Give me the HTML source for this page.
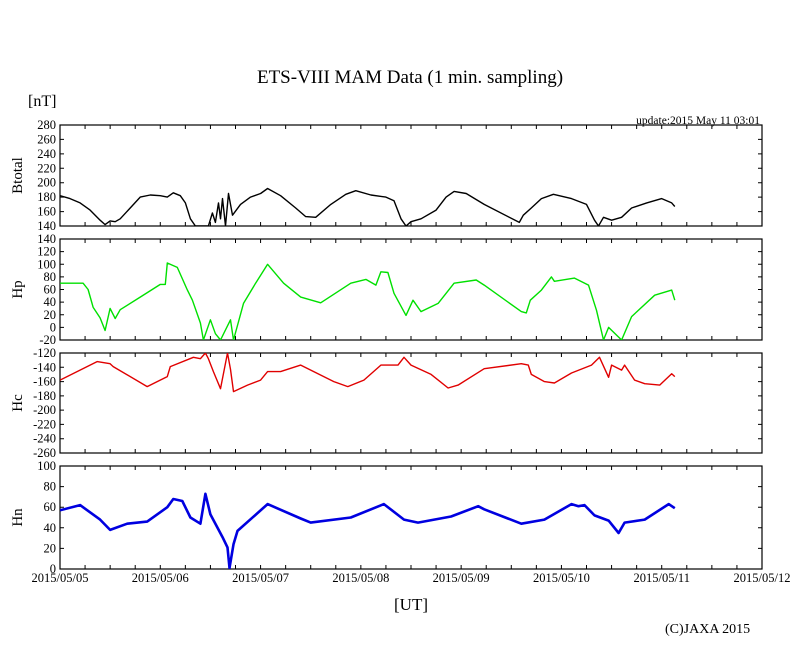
<!DOCTYPE html>
<html><head><meta charset="utf-8"><style>
body{margin:0;background:#fff;width:810px;height:655px;overflow:hidden}
text{font-family:"Liberation Serif",serif}
</style></head><body>
<svg id="chart" width="810" height="655" xmlns="http://www.w3.org/2000/svg">
<text x="410" y="83" font-size="19" text-anchor="middle">ETS-VIII MAM Data (1 min. sampling)</text>
<text x="28" y="106" font-size="16">[nT]</text>
<text x="760" y="124" font-size="11.5" text-anchor="end">update:2015 May 11 03:01</text>
<text x="411" y="610" font-size="17" text-anchor="middle">[UT]</text>
<text x="665" y="633" font-size="14">(C)JAXA 2015</text>
</svg>
<script>
const dayLabels=["2015/05/05","2015/05/06","2015/05/07","2015/05/08","2015/05/09","2015/05/10","2015/05/11","2015/05/12"];
const btotT=[0,0.1,0.2,0.3,0.4,0.45,0.5,0.55,0.6,0.7,0.8,0.9,1.0,1.07,1.13,1.2,1.25,1.3,1.35,1.48,1.52,1.55,1.58,1.6,1.62,1.65,1.68,1.72,1.8,1.9,2.0,2.07,2.2,2.35,2.45,2.55,2.7,2.85,2.95,3.1,3.25,3.33,3.4,3.45,3.5,3.6,3.75,3.85,3.93,4.05,4.23,4.58,4.62,4.7,4.8,4.92,5.1,5.25,5.33,5.37,5.42,5.5,5.6,5.7,5.85,6.0,6.1,6.13];
const btotV=[182,178,172,162,148,142,147,146,150,165,180,183,182,180,186,182,172,150,140,140,158,145,172,150,178,140,185,155,170,180,185,192,182,165,153,152,170,184,189,183,180,175,150,140,146,150,162,180,188,185,170,145,155,165,178,184,178,170,148,140,152,148,152,165,172,178,172,167];
const hpT=[0,0.23,0.28,0.33,0.4,0.45,0.5,0.55,0.6,0.8,1.0,1.05,1.07,1.17,1.27,1.32,1.4,1.43,1.5,1.55,1.6,1.7,1.73,1.83,1.95,2.07,2.23,2.4,2.6,2.9,3.05,3.15,3.2,3.27,3.33,3.45,3.52,3.6,3.77,3.93,4.15,4.23,4.6,4.65,4.69,4.8,4.9,4.93,5.13,5.27,5.35,5.42,5.47,5.6,5.7,5.93,6.1,6.13];
const hpV=[70,70,60,32,15,-5,30,14,28,48,68,68,102,95,59,43,7,-20,12,-10,-20,12,-20,38,70,100,70,48,39,70,76,67,88,87,54,19,43,25,38,70,75,67,25,23,43,59,80,73,78,67,27,-20,0,-20,17,51,59,43];
const hcT=[0,0.37,0.5,0.53,0.87,1.07,1.1,1.33,1.4,1.45,1.48,1.53,1.6,1.67,1.7,1.73,1.87,2.0,2.07,2.2,2.4,2.73,2.87,3.03,3.2,3.37,3.43,3.5,3.7,3.87,3.97,4.23,4.6,4.67,4.7,4.83,4.93,5.1,5.3,5.38,5.47,5.5,5.6,5.63,5.73,5.83,5.98,6.1,6.13];
const hcV=[-158,-132,-135,-139,-167,-153,-139,-126,-128,-120,-128,-146,-170,-120,-143,-174,-165,-158,-146,-146,-137,-160,-167,-158,-137,-137,-126,-137,-150,-169,-165,-142,-135,-137,-150,-160,-162,-148,-137,-126,-154,-137,-144,-137,-158,-163,-165,-149,-153];
const hnT=[0,0.2,0.4,0.5,0.67,0.87,1.07,1.13,1.22,1.3,1.4,1.45,1.5,1.62,1.67,1.69,1.73,1.77,2.07,2.4,2.5,2.9,3.23,3.43,3.57,3.9,4.17,4.23,4.6,4.83,5.1,5.17,5.23,5.33,5.47,5.57,5.63,5.83,6.07,6.13];
const hnV=[57,62,48,38,44,46,60,68,66,50,44,73,53,31,21,1,24,37,63,49,45,50,63,48,45,51,61,58,44,48,63,61,62,52,47,35,45,48,63,59];
const panels=[
 {name:"btotal",label:"Btotal",top:125,bot:226,min:140,max:280,step:20,t:btotT,v:btotV,color:"#000",w:1.4},
 {name:"hp",label:"Hp",top:239,bot:340,min:-20,max:140,step:20,t:hpT,v:hpV,color:"#00e000",w:1.4},
 {name:"hc",label:"Hc",top:353,bot:453,min:-260,max:-120,step:20,t:hcT,v:hcV,color:"#e00000",w:1.4},
 {name:"hn",label:"Hn",top:466,bot:569,min:0,max:100,step:20,t:hnT,v:hnV,color:"#0000e0",w:2.6}];
const X0=60,X1=762,DAYS=7;
const NS="http://www.w3.org/2000/svg";
const svg=document.getElementById("chart");
function xs(d){return X0+d*(X1-X0)/DAYS;}
function mk(tag,attrs){const e=document.createElementNS(NS,tag);for(const k in attrs)e.setAttribute(k,attrs[k]);svg.appendChild(e);return e;}
panels.forEach(p=>{
 const ys=v=>p.bot-(v-p.min)*(p.bot-p.top)/(p.max-p.min);
 const r=mk("rect",{x:X0,y:p.top,width:X1-X0,height:p.bot-p.top,fill:"none",stroke:"#000","stroke-width":1.2});
 
 
 for(let v=p.min;v<=p.max+1e-9;v+=p.step){
  const y=ys(v);
  const tl=mk("path",{d:`M${X0} ${y}h4M${X1} ${y}h-4`,stroke:"#000","stroke-width":1});
  
  
  const t=mk("text",{x:X0-4,y:y+4,"font-size":12.5,"text-anchor":"end"});t.textContent=v;
  
  
 }
 for(let q=1;q<DAYS*4;q++){
  const x=xs(q/4);
  const tk=mk("path",{d:`M${x} ${p.top}v4M${x} ${p.bot}v-4`,stroke:"#000","stroke-width":1});
  
  
 }
 const cy=(p.top+p.bot)/2;
 const lb=mk("text",{x:0,y:0,"font-size":15,"text-anchor":"middle",transform:`translate(22 ${cy}) rotate(-90)`});lb.textContent=p.label;
 
 
 const cp=mk("clipPath",{id:"c"+p.name});
 const cr=document.createElementNS(NS,"rect");cr.setAttribute("x",X0);cr.setAttribute("y",p.top);cr.setAttribute("width",X1-X0);cr.setAttribute("height",p.bot-p.top);cp.appendChild(cr);
 let d="";p.t.forEach((t,i)=>{const v=Math.max(p.min,Math.min(p.max,p.v[i]));d+=(i?"L":"M")+xs(t).toFixed(1)+" "+ys(v).toFixed(1);});
 const line=mk("path",{d:d,fill:"none",stroke:p.color,"stroke-width":p.w,"clip-path":`url(#c${p.name})`,"stroke-linejoin":"round"});
 
 
});
dayLabels.forEach((l,i)=>{
 const t=mk("text",{x:xs(i),y:582,"font-size":12.5,"text-anchor":"middle"});t.textContent=l;
 
 
});
</script>
</body></html>
